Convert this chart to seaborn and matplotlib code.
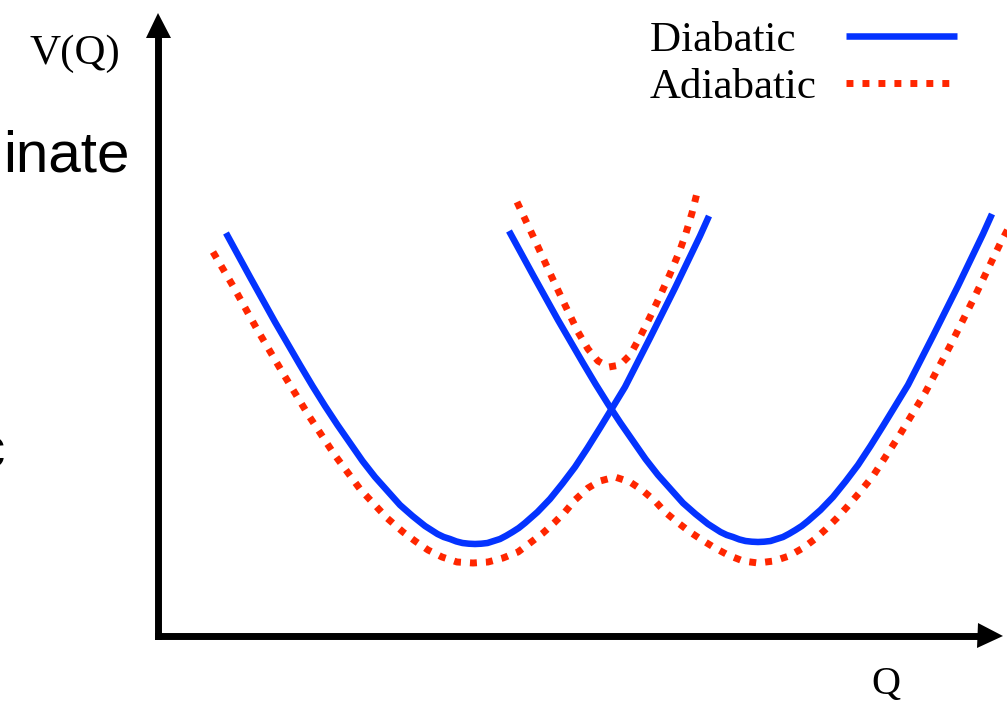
import matplotlib
matplotlib.use("Agg")
import matplotlib.pyplot as plt
import pandas as pd
import seaborn as sns

# ---- data (schematic units: Q along reaction coordinate, V energy) ----
diabatic_left_q = [68, 92, 117, 142, 154.5, 167, 179.5, 192, 204.5, 217, 229.5, 242, 254.5, 267,
                   273.25, 279.5, 285.75, 292, 298.25, 304.5, 310.75, 317, 323.25, 329.5, 335.75,
                   342, 348.25, 354.5, 360.75, 367, 379.5, 392, 404.5, 417, 429.5, 442, 453, 467,
                   492, 517, 542, 551]
diabatic_left_v = [403, 359, 314, 271, 250, 230, 211, 193, 175, 159, 145, 131, 120, 110,
                   106, 102, 99, 97, 94.6, 93, 92.3, 92, 92.3, 93, 95,
                   97, 100.3, 104, 108, 113, 124, 137, 152.5, 169, 188, 208, 226, 249,
                   298, 348, 400, 420]

diabatic_right_q = [351, 375, 400, 425, 437.5, 450, 462.5, 475, 487.5, 500, 512.5, 525, 537.5, 550,
                    556.25, 562.5, 568.75, 575, 581.25, 587.5, 593.75, 600, 606.25, 612.5, 618.75,
                    625, 631.25, 637.5, 643.75, 650, 662.5, 675, 687.5, 700, 712.5, 725, 736, 750,
                    775, 800, 825, 834]
diabatic_right_v = [405, 361, 316, 273, 252, 232, 213, 195, 177, 161, 147, 133, 122, 112,
                    108, 104, 101, 99, 96.6, 95, 94.3, 94, 94.3, 95, 97,
                    99, 102.3, 106, 110, 115, 126, 139, 154.5, 171, 190, 210, 228, 251,
                    300, 350, 402, 422]

adiabatic_lower_q = [55, 75, 100, 126, 151, 176, 202, 229, 245, 257, 270, 284, 299, 315, 330,
                     345, 360, 372, 385, 396, 407, 417, 430, 442, 457, 472, 484, 497, 507, 519,
                     532, 544, 557, 570, 585, 600, 616, 631, 645, 657, 668, 679, 689, 702, 715,
                     741, 767, 792, 817, 842, 850]
adiabatic_lower_v = [384, 350, 305, 261, 220, 182, 147, 118, 104, 95, 86, 79, 74, 73, 74,
                     78, 84, 93, 103, 113, 124, 136, 148, 155, 159, 154, 146, 135, 124, 114,
                     104, 96, 88, 81, 75, 73, 75, 80, 88, 97, 107, 118, 129, 144, 160,
                     200, 243, 290, 340, 392, 407]

adiabatic_upper_q = [359, 375, 391, 406, 420, 430, 440, 451, 462, 472, 482, 492, 502, 512,
                     522, 528, 534, 539]
adiabatic_upper_v = [434, 400, 365, 333, 304, 287, 275, 269, 271, 281, 299, 319, 340, 362,
                     386, 403, 423, 443]

curves = {
    "diabatic_left": ("Diabatic", diabatic_left_q, diabatic_left_v),
    "diabatic_right": ("Diabatic", diabatic_right_q, diabatic_right_v),
    "adiabatic_lower": ("Adiabatic", adiabatic_lower_q, adiabatic_lower_v),
    "adiabatic_upper": ("Adiabatic", adiabatic_upper_q, adiabatic_upper_v),
}
frames = []
for name, (kind, q, v) in curves.items():
    frames.append(pd.DataFrame({"Q": q, "V": v, "curve": name, "kind": kind}))
df = pd.concat(frames, ignore_index=True)

colors = {"Diabatic": "#0433FF", "Adiabatic": "#FF2600"}
widths = {"Diabatic": 4.7, "Adiabatic": 5.0}
styles = {"Diabatic": "-", "Adiabatic": (0, (1.0, 1.3))}

sns.set_style("white")
plt.rcParams["text.color"] = "black"
plt.rcParams["axes.labelcolor"] = "black"
serif = "Liberation Serif"

fig = plt.figure(figsize=(10.07, 7.07), dpi=100)
W, H = 1007, 707
left, right, bottom, top = 158, 989.5, 636, 24.5
ax = fig.add_axes([left / W, (H - bottom) / H, (right - left) / W, (bottom - top) / H])

handles = {}
for name, sub in df.groupby("curve", sort=False):
    kind = sub["kind"].iloc[0]
    sns.lineplot(data=sub, x="Q", y="V", estimator=None, sort=False, ax=ax,
                 color=colors[kind], linewidth=widths[kind], linestyle=styles[kind],
                 solid_capstyle="butt", dash_capstyle="butt", solid_joinstyle="round")
    handles.setdefault(kind, ax.lines[-1])

for ln in ax.lines:
    ln.set_clip_on(False)

ax.set_xlim(0, right - left)
ax.set_ylim(0, bottom - top)
ax.set_xticks([])
ax.set_yticks([])
sns.despine(ax=ax)
for s in ("left", "bottom"):
    ax.spines[s].set_linewidth(5)
    ax.spines[s].set_color("black")
    ax.spines[s].set_capstyle("projecting")

# arrow heads on the axes
ax.plot(1, 0, ">", color="black", ms=18, mew=0, transform=ax.transAxes, clip_on=False)
ax.plot(0, 1, "^", color="black", ms=18, mew=0, transform=ax.transAxes, clip_on=False)

ax.set_xlabel("Q", fontsize=29, family=serif, color="black", ha="center", va="baseline")
ax.xaxis.set_label_coords((886 - left) / (right - left), -(694 - bottom) / (bottom - top))
ax.set_ylabel("V(Q)", fontsize=31, family=serif, color="black", rotation=0,
              ha="left", va="baseline")
ax.yaxis.set_label_coords((30 - left) / (right - left), (bottom - 64) / (bottom - top))

leg = ax.legend([handles["Diabatic"], handles["Adiabatic"]], ["Diabatic  ", "Adiabatic"],
                markerfirst=False, frameon=False, prop={"family": serif, "size": 31},
                handlelength=2.58, handletextpad=0.67, labelspacing=0.19,
                borderpad=0, borderaxespad=0, loc="upper left",
                bbox_to_anchor=(650 / W, 1 - 21 / H), bbox_transform=fig.transFigure)
for t in leg.get_texts():
    t.set_color("black")

# fragments of slide text cut off at the left edge
fig.text(130 / W, 1 - 172 / H, "inate", ha="right", va="baseline", fontsize=42,
         family="Liberation Sans", color="black")
fig.text(5 / W, 1 - 467 / H, "c", ha="right", va="baseline", fontsize=42,
         family="Liberation Sans", color="black")

fig.savefig("out.png", dpi=100)
